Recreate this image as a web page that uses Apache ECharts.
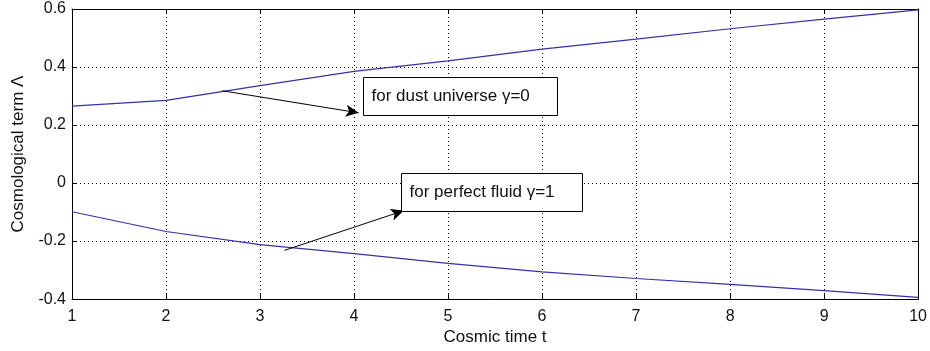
<!DOCTYPE html>
<html><head><meta charset="utf-8">
<script src="https://cdn.jsdelivr.net/npm/echarts@6/dist/echarts.min.js"></script>
<style>html,body{margin:0;padding:0;background:#fff}#c{width:930px;height:351px}</style>
</head><body><div id="c"></div>
<script>
const tValues = [1, 2, 3, 4, 5, 6, 7, 8, 9, 10];
const dustValues = [0.265, 0.285, 0.336, 0.385, 0.421, 0.462, 0.496, 0.532, 0.565, 0.597];
const fluidValues = [-0.099, -0.167, -0.212, -0.243, -0.277, -0.306, -0.329, -0.349, -0.371, -0.394];
const yTickLabels = ['-0.4', '-0.2', '0', '0.2', '0.4', '0.6'];
const xTickLabels = ['1','2','3','4','5','6','7','8','9','10'];
const annotationTexts = ['for dust universe \u03b3=0', 'for perfect fluid \u03b3=1'];
// annotation anchors in data coordinates [t, value]
const arrowDust = [[2.60, 0.318], [4.05, 0.242]];
const arrowFluid = [[3.26, -0.232], [4.53, -0.095]];
const boxDust = [[4.10, 0.367], [6.16, 0.236]];
const boxFluid = [[4.50, 0.034], [6.43, -0.098]];

const FONT = 'Liberation Sans, Arial, sans-serif';
const chart = echarts.init(document.getElementById('c'));
const lineColor = '#3232a8';
const yFmt = v => { const i = Math.round((v + 0.4) / 0.2); return yTickLabels[i] !== undefined ? yTickLabels[i] : ''; };
const xFmt = v => { const i = Math.round(v - 1); return xTickLabels[i] !== undefined ? xTickLabels[i] : ''; };

function arrowLine(pts) {
  return [{ coord: pts[0], symbol: 'none' }, { coord: pts[1], symbol: 'arrow' }];
}

chart.setOption({
  animation: false,
  grid: { left: 72, right: 11, top: 9, bottom: 50, containLabel: false },
  xAxis: [{
    type: 'value', min: 1, max: 10, interval: 1,
    name: 'Cosmic time t', nameLocation: 'middle', nameGap: 26,
    nameTextStyle: { color: '#111', fontSize: 17, fontFamily: FONT },
    axisLine: { show: true, onZero: false, lineStyle: { color: '#000', width: 1 } },
    axisTick: { show: true, inside: true, length: 5, lineStyle: { color: '#000' } },
    axisLabel: { color: '#111', fontSize: 16, fontFamily: FONT, margin: 9, formatter: xFmt },
    splitLine: { show: true, lineStyle: { color: '#000', type: [1, 3], width: 1 } }
  }, {
    type: 'value', min: 1, max: 10, interval: 1, position: 'top',
    axisLine: { show: true, onZero: false, lineStyle: { color: '#000', width: 1 } },
    axisTick: { show: true, inside: true, length: 5, lineStyle: { color: '#000' } },
    axisLabel: { show: false }, splitLine: { show: false }
  }],
  yAxis: [{
    type: 'value', min: -0.4, max: 0.6, interval: 0.2,
    name: 'Cosmological term \u039b', nameLocation: 'middle', nameGap: 45, nameRotate: 90,
    nameTextStyle: { color: '#111', fontSize: 17, fontFamily: FONT },
    axisLine: { show: true, onZero: false, lineStyle: { color: '#000', width: 1 } },
    axisTick: { show: true, inside: true, length: 5, lineStyle: { color: '#000' } },
    axisLabel: { color: '#111', fontSize: 16, fontFamily: FONT, margin: 6, formatter: yFmt },
    splitLine: { show: true, lineStyle: { color: '#000', type: [1, 3], width: 1 } }
  }, {
    type: 'value', min: -0.4, max: 0.6, interval: 0.2, position: 'right',
    axisLine: { show: true, onZero: false, lineStyle: { color: '#000', width: 1 } },
    axisTick: { show: true, inside: true, length: 5, lineStyle: { color: '#000' } },
    axisLabel: { show: false }, splitLine: { show: false }
  }],
  series: [{
    name: 'dust', type: 'line', showSymbol: false, symbol: 'none',
    data: tValues.map((t, i) => [t, dustValues[i]]),
    lineStyle: { color: lineColor, width: 1.2 },
    markLine: {
      silent: true, symbolSize: [9, 13], animation: false,
      lineStyle: { color: '#000', width: 1, type: 'solid' },
      label: { show: false },
      data: [arrowLine(arrowDust), arrowLine(arrowFluid)]
    }
  }, {
    name: 'fluid', type: 'line', showSymbol: false, symbol: 'none',
    data: tValues.map((t, i) => [t, fluidValues[i]]),
    lineStyle: { color: lineColor, width: 1.2 }
  }]
});

function boxGraphic(box, text) {
  const p1 = chart.convertToPixel({ gridIndex: 0 }, box[0]);
  const p2 = chart.convertToPixel({ gridIndex: 0 }, box[1]);
  const x = Math.round(p1[0]) + 0.5, y = Math.round(p1[1]) + 0.5;
  const w = Math.round(p2[0] - p1[0]), h = Math.round(p2[1] - p1[1]);
  return [{
    type: 'rect', shape: { x: x, y: y, width: w, height: h },
    style: { fill: '#fff', stroke: '#000', lineWidth: 1 }, z: 100
  }, {
    type: 'text', x: x + 8, y: y + h / 2,
    style: { text: text, fill: '#111', font: '17px ' + FONT, textVerticalAlign: 'middle', verticalAlign: 'middle' }, z: 101
  }];
}
chart.setOption({ graphic: [].concat(boxGraphic(boxDust, annotationTexts[0]), boxGraphic(boxFluid, annotationTexts[1])) });
</script></body></html>
